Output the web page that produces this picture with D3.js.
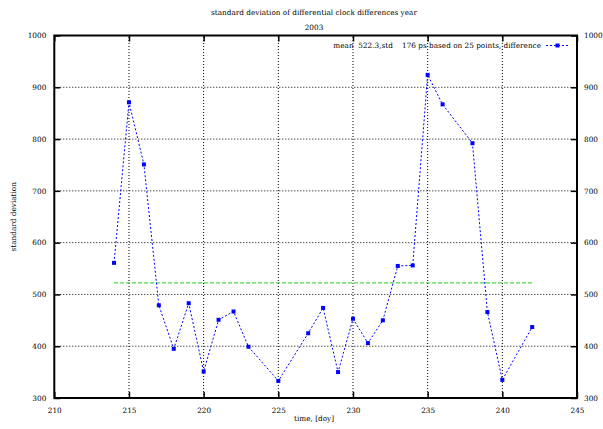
<!DOCTYPE html>
<html>
<head>
<meta charset="utf-8">
<script src="https://cdn.jsdelivr.net/npm/d3@7"></script>
<style>
  body { margin: 0; background: #fff; }
  text { font-family: "DejaVu Serif", serif; font-size: 7.3px; fill: #000; }
</style>
</head>
<body>
<div class="chart"></div>
<script>
// day of year and std values
const days = [214, 215, 216, 217, 218, 219, 220, 221, 222, 223, 225, 227, 228,
              229, 230, 231, 232, 233, 234, 235, 236, 238, 239, 240, 242];
const stdValues = [561, 871, 751, 479, 395, 483, 351, 451, 467, 399, 333, 425, 474,
                   350, 453, 406, 450, 555, 556, 924, 867, 792, 466, 335, 437];
const meanValue = 522.3;
const xTicks = [210, 215, 220, 225, 230, 235, 240, 245];
const yTicks = [300, 400, 500, 600, 700, 800, 900, 1000];

const width = 603, height = 429;
const margin = {top: 35.5, right: 26, bottom: 31, left: 54.3};

const svg = d3.select(".chart").append("svg")
    .attr("width", width).attr("height", height);

const x = d3.scaleLinear().domain([210, 245]).range([margin.left, width - margin.right]);
const y = d3.scaleLinear().domain([300, 1000]).range([height - margin.bottom, margin.top]);

// grid
svg.append("g").selectAll("line").data(xTicks.slice(1, -1)).join("line")
    .attr("x1", d => x(d)).attr("x2", d => x(d))
    .attr("y1", y(300)).attr("y2", y(1000))
    .attr("stroke", "#000").attr("stroke-width", 1)
    .attr("stroke-dasharray", "1,2");
svg.append("g").selectAll("line").data(yTicks.slice(1, -1)).join("line")
    .attr("x1", x(210)).attr("x2", x(245))
    .attr("y1", d => y(d)).attr("y2", d => y(d))
    .attr("stroke", "#000").attr("stroke-width", 1)
    .attr("stroke-dasharray", "1,2");

// axes, ticks inward
const tick = 6;
const fmt = d3.format("d");
svg.append("g").attr("transform", `translate(0,${y(300)})`)
    .call(d3.axisBottom(x).tickValues(xTicks).tickFormat(fmt).tickSize(-tick).tickPadding(tick + 4))
    .call(g => g.select(".domain").remove());
svg.append("g").attr("transform", `translate(0,${y(1000)})`)
    .call(d3.axisTop(x).tickValues(xTicks).tickSize(-tick).tickFormat(""))
    .call(g => g.select(".domain").remove());
svg.append("g").attr("transform", `translate(${x(210)},0)`)
    .call(d3.axisLeft(y).tickValues(yTicks).tickFormat(fmt).tickSize(-tick).tickPadding(tick + 2))
    .call(g => g.select(".domain").remove());
svg.append("g").attr("transform", `translate(${x(245)},0)`)
    .call(d3.axisRight(y).tickValues(yTicks).tickFormat(fmt).tickSize(-tick).tickPadding(tick + 1))
    .call(g => g.select(".domain").remove());
svg.selectAll(".tick line").attr("stroke-width", 1.5);
// let the css font win over the axis defaults
svg.selectAll("g").attr("font-family", null).attr("font-size", null);

svg.append("rect")
    .attr("x", x(210)).attr("y", y(1000))
    .attr("width", x(245) - x(210)).attr("height", y(300) - y(1000))
    .attr("fill", "none").attr("stroke", "#000").attr("stroke-width", 2);

// mean line
svg.append("line")
    .attr("x1", x(days[0])).attr("x2", x(days[days.length - 1]))
    .attr("y1", y(meanValue)).attr("y2", y(meanValue))
    .attr("stroke", "#22cc22").attr("stroke-width", 1)
    .attr("stroke-dasharray", "4,2");

// data line
const line = d3.line().x((d, i) => x(days[i])).y(d => y(d));
svg.append("path").datum(stdValues)
    .attr("d", line)
    .attr("fill", "none").attr("stroke", "#0000ff").attr("stroke-width", 1)
    .attr("stroke-dasharray", "2,2");
svg.append("g").selectAll("rect").data(stdValues).join("rect")
    .attr("x", (d, i) => x(days[i]) - 2).attr("y", d => y(d) - 2)
    .attr("width", 4).attr("height", 4).attr("fill", "#0000ff");

// key
svg.append("text").attr("x", 541).attr("y", 48).attr("text-anchor", "end")
    .attr("xml:space", "preserve")
    .text("mean  522.3,std    176 ps based on 25 points, difference");
svg.append("line").attr("x1", 546).attr("x2", 569).attr("y1", 45.5).attr("y2", 45.5)
    .attr("stroke", "#0000ff").attr("stroke-dasharray", "2,2");
svg.append("rect").attr("x", 555.5).attr("y", 43.5).attr("width", 4).attr("height", 4)
    .attr("fill", "#0000ff");

// titles
svg.append("text").attr("x", 314).attr("y", 15).attr("text-anchor", "middle")
    .text("standard deviation of differential clock differences year");
svg.append("text").attr("x", 314).attr("y", 30).attr("text-anchor", "middle")
    .text("2003");
svg.append("text").attr("x", 314).attr("y", 421).attr("text-anchor", "middle")
    .text("time, [doy]");
svg.append("text").attr("transform", `translate(16,${(y(300) + y(1000)) / 2}) rotate(-90)`)
    .attr("text-anchor", "middle")
    .text("standard deviation");
</script>
</body>
</html>
